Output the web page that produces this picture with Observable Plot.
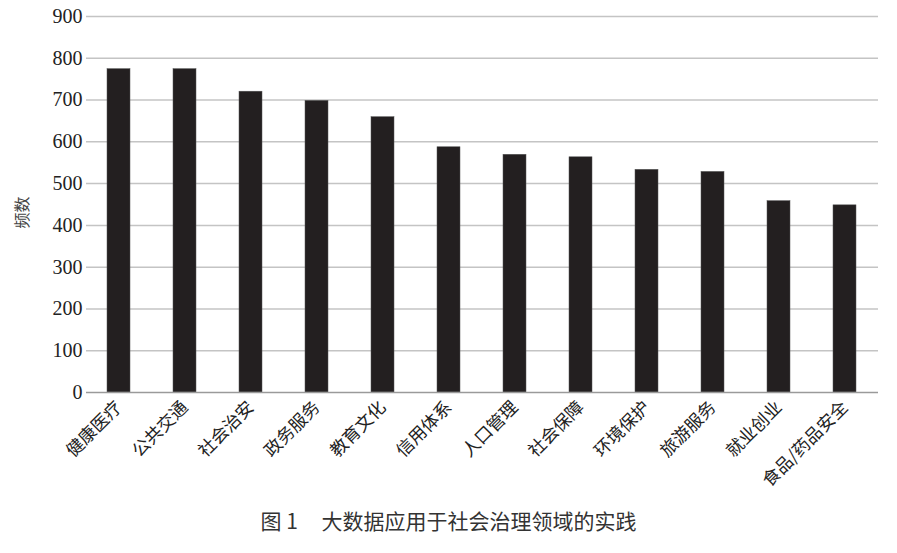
<!DOCTYPE html>
<html>
<head>
<meta charset="utf-8">
<script src="https://cdn.jsdelivr.net/npm/d3@7"></script>
<script src="https://cdn.jsdelivr.net/npm/@observablehq/plot@0.6"></script>
<style>
  html, body { margin: 0; padding: 0; background: #fff; }
  #chart { width: 897px; }
  .caption {
    font-family: "Noto Sans CJK SC", sans-serif;
    font-size: 21px;
    color: #333;
    text-align: center;
    width: 897px;
    margin-top: 10px;
    padding-left: 0px;
  }
</style>
</head>
<body>
<div id="chart"></div>
<div class="caption">图 1&nbsp;&nbsp;&nbsp;&nbsp;&nbsp;大数据应用于社会治理领域的实践</div>
<script>
const categories = ["健康医疗", "公共交通", "社会治安", "政务服务", "教育文化", "信用体系", "人口管理", "社会保障", "环境保护", "旅游服务", "就业创业", "食品/药品安全"];
const values = [774, 774, 720, 698, 659, 587, 569, 563, 533, 528, 458, 448];
const yTicks = [0, 100, 200, 300, 400, 500, 600, 700, 800, 900];
const yLabel = "频数";

const data = categories.map((c, i) => ({category: c, value: values[i]}));

const H = 495;
const chart = Plot.plot({
  width: 897,
  height: H,
  marginTop: 16,
  marginBottom: H - 392,
  marginLeft: 86,
  marginRight: 19,
  style: {background: "#fff", overflow: "visible"},
  x: {domain: categories, paddingInner: 0.65, paddingOuter: 0.325, label: null},
  y: {domain: [0, 900], ticks: yTicks, label: null},
  marks: [
    Plot.gridY(yTicks.filter(d => d > 0), {stroke: "#c4c4c4", strokeOpacity: 1, strokeWidth: 1.5}),
    Plot.barY(data, {x: "category", y: "value", fill: "#231f20", stroke: "#555", strokeWidth: 0.5}),
    Plot.ruleY([0], {stroke: "#9a9a9a", strokeWidth: 1.5}),
    Plot.axisY(yTicks, {tickSize: 0, tickPadding: 4, fontSize: 20, fontFamily: "Liberation Serif, serif", fill: "#222", label: null}),
    Plot.axisX({tickSize: 0, tickPadding: 12, tickRotate: -45, fontSize: 17.5, fontFamily: "Noto Sans CJK SC, sans-serif", fill: "#222", label: null}),
    Plot.text([yLabel], {frameAnchor: "left", textAnchor: "middle", dx: -64, dy: 8, rotate: -90, fontSize: 16, fontFamily: "Noto Sans CJK SC, sans-serif", fill: "#444", text: d => d})
  ]
});
document.getElementById("chart").appendChild(chart);
</script>
</body>
</html>
